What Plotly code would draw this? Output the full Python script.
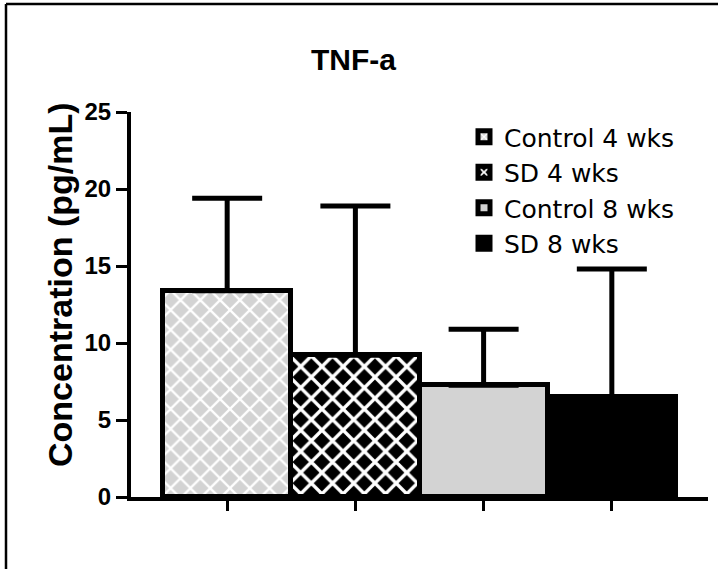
import plotly.graph_objects as go

# ---- data ----
groups = ["Control 4 wks", "SD 4 wks", "Control 8 wks", "SD 8 wks"]
means = [13.4, 9.2, 7.25, 6.5]
upper = [19.4, 18.9, 10.9, 14.8]   # top of error bar (mean + SD)
y_ticks = [0, 5, 10, 15, 20, 25]

title_text = "TNF-a"
y_title = "Concentration (pg/mL)"

FONT = "Liberation Sans, Arial, sans-serif"
LEG_FONT = "DejaVu Sans, Liberation Sans, sans-serif"

styles = [
    dict(color="#d3d3d3", pattern=dict(shape="x", bgcolor="#d3d3d3", fgcolor="white",
                                        size=14, solidity=0.3, fillmode="replace")),
    dict(color="black", pattern=dict(shape="x", bgcolor="black", fgcolor="white",
                                      size=15, solidity=0.4, fillmode="replace")),
    dict(color="#d3d3d3"),
    dict(color="black"),
]

fig = go.Figure()
for g, m, u, st in zip(groups, means, upper, styles):
    marker = dict(line=dict(color="black", width=5), **st)
    fig.add_trace(go.Bar(
        x=[g], y=[m], name=g, marker=marker, width=1.0,
        error_y=dict(type="data", array=[u - m], arrayminus=[0], symmetric=False,
                     color="black", thickness=5, width=35),
    ))

L, R, T, B = 131, 10, 112, 72
W, H = 718, 569
pw = W - L - R
ph = H - T - B

def px_x(px):
    return (px - L) / pw

def px_y(py):
    return (H - B - py) / ph

fig.update_layout(
    width=W, height=H,
    margin=dict(l=L, r=R, t=T, b=B),
    paper_bgcolor="white", plot_bgcolor="white",
    barmode="overlay", bargap=0,
    font=dict(family=FONT, color="black"),
    showlegend=True,
    legend=dict(
        x=px_x(464), y=px_y(114), xanchor="left", yanchor="top",
        font=dict(size=25, family=LEG_FONT, color="black"),
        bgcolor="rgba(0,0,0,0)", tracegroupgap=0,
    ),
    annotations=[
        dict(text=title_text, xref="paper", yref="paper",
             x=px_x(353), y=px_y(60), xanchor="center", yanchor="middle",
             showarrow=False, font=dict(size=30, family=FONT, weight="bold")),
        dict(text=y_title, xref="paper", yref="paper", textangle=-90,
             x=px_x(60), y=px_y(285), xanchor="center", yanchor="middle",
             showarrow=False, font=dict(size=34, family=FONT, weight="bold")),
    ],
    shapes=[
        dict(type="line", xref="paper", yref="paper",
             x0=px_x(6), x1=px_x(6), y0=px_y(572), y1=px_y(4),
             line=dict(color="black", width=2.5)),
        dict(type="line", xref="paper", yref="paper",
             x0=px_x(6), x1=px_x(720), y0=px_y(4), y1=px_y(4),
             line=dict(color="black", width=2.5)),
    ],
)

fig.update_xaxes(
    type="category", categoryorder="array", categoryarray=groups,
    range=[-0.75, 3.75], showgrid=False, zeroline=False,
    showline=True, linecolor="black", linewidth=4,
    ticks="outside", ticklen=10, tickwidth=3, tickcolor="black",
    showticklabels=False,
)
fig.update_yaxes(
    range=[0, 25], tickvals=y_ticks, showgrid=False, zeroline=False,
    showline=True, linecolor="black", linewidth=4,
    ticks="outside", ticklen=11, tickwidth=3, tickcolor="black",
    tickfont=dict(size=24, family=FONT, weight="bold", color="black"),
)

fig.write_html("out.html")
